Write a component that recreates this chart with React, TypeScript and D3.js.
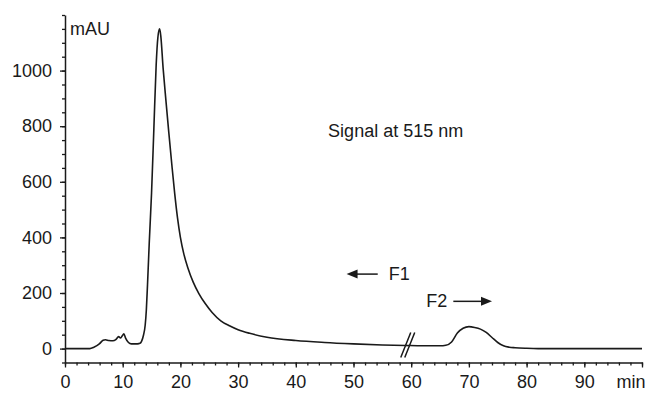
import React, { useEffect, useRef } from 'react';
import * as d3 from 'd3';

// retention time (min) and absorbance (mAU)
const timeMin = [
  0, 4.3, 5, 6, 6.6, 7, 7.6, 8.3, 8.8, 9.3, 9.6, 9.9, 10.2, 10.5, 11, 11.5, 12.3, 12.8,
  13.0, 13.3, 13.6, 13.9, 14.1, 14.3, 14.6, 15.0, 15.4, 15.8, 16.1, 16.4, 16.6, 17.0,
  17.5, 18.0, 18.5, 19.0, 19.5, 20.0, 20.6, 21.3, 22.2, 23.2, 24.3, 25.5, 27, 28.5, 30, 32, 35,
  40, 45, 50, 55, 59,
];
const signal = [
  0, 0, 5, 18, 30, 32, 29, 28, 32, 43, 38, 45, 53, 38, 22, 17, 17, 18,
  19, 28, 48, 85, 140, 230, 380, 560, 790, 1020, 1120, 1150, 1125, 1010,
  890, 775, 665, 560, 470, 400, 340, 290, 240, 198, 162, 130, 100, 82, 68, 55, 41,
  29, 22, 17, 13, 11,
];
// second fraction, after the break in the time axis
const timeMin2 = [59.8, 62, 65, 66, 67, 68, 69, 70, 71, 72, 73, 74, 75, 76, 77, 78, 80, 82, 100];
const signal2 = [11, 10, 10, 12, 24, 56, 73, 79, 76, 70, 58, 40, 22, 10, 5, 3, 1, 0, 0];

const xTicks = [0, 10, 20, 30, 40, 50, 60, 70, 80, 90, 100];
const xTickLabels = ['0', '10', '20', '30', '40', '50', '60', '70', '80', '90', 'min'];
const yTicks = [0, 200, 400, 600, 800, 1000];

const W = 648;
const H = 393;
const FONT = '"Liberation Sans", Arial, Helvetica, sans-serif';
const FS = '18px';

const App = () => {
  const svgRef = useRef<SVGSVGElement>(null);

  useEffect(() => {
    const svg = d3.select(svgRef.current);
    svg.selectAll('*').remove();

    const x = d3.scaleLinear().domain([0, 100]).range([65, 642]);
    const y = d3.scaleLinear().domain([-50, 1200]).range([362.5, 15]);

    const col = '#1a1a1a';

    // minor ticks
    const xMinor = d3.range(0, 101, 2);
    const yMinor = d3.range(-50, 1201, 50);

    const gx = svg.append('g').attr('transform', `translate(0,${y(-50)})`);
    gx.call(d3.axisBottom(x).tickValues(xMinor).tickSize(3).tickSizeOuter(0).tickFormat(() => ''));
    gx.append('g').call(
      d3.axisBottom(x).tickValues(xTicks).tickSize(5).tickSizeOuter(0).tickPadding(8)
        .tickFormat((d, i) => xTickLabels[i])
    );
    gx.selectAll('.domain').filter((_, i) => i > 0).remove();
    gx.selectAll('path.domain').attr('stroke', col).attr('stroke-width', 1.5);
    gx.selectAll('line').attr('stroke', col).attr('stroke-width', 1.3);
    gx.selectAll('text')
      .attr('fill', col)
      .style('font-size', FS)
      .style('font-family', FONT);
    gx.selectAll('text').filter((d) => d === 100).attr('text-anchor', 'end').attr('x', 3);

    const gy = svg.append('g').attr('transform', `translate(${x(0)},0)`);
    gy.call(d3.axisLeft(y).tickValues(yMinor).tickSize(3).tickSizeOuter(0).tickFormat(() => ''));
    gy.append('g').call(
      d3.axisLeft(y).tickValues(yTicks).tickSize(5).tickSizeOuter(0).tickPadding(8)
        .tickFormat(d3.format('d'))
    );
    gy.selectAll('.domain').filter((_, i) => i > 0).remove();
    gy.selectAll('path.domain').attr('stroke', col).attr('stroke-width', 1.5);
    gy.selectAll('line').attr('stroke', col).attr('stroke-width', 1.3);
    gy.selectAll('text')
      .attr('fill', col)
      .style('font-size', FS)
      .style('font-family', FONT);

    // trace
    const line = d3.line<[number, number]>()
      .x((d) => x(d[0]))
      .y((d) => y(d[1]))
      .curve(d3.curveMonotoneX);

    const part1 = timeMin.map((t, i) => [t, signal[i]] as [number, number]);
    const part2 = timeMin2.map((t, i) => [t, signal2[i]] as [number, number]);
    [part1, part2].forEach((pts) => {
      svg.append('path')
        .attr('d', line(pts))
        .attr('fill', 'none')
        .attr('stroke', col)
        .attr('stroke-width', 1.6)
        .attr('stroke-linejoin', 'round');
    });
    // join across the break
    svg.append('line')
      .attr('x1', x(59)).attr('y1', y(11))
      .attr('x2', x(59.8)).attr('y2', y(11))
      .attr('stroke', col).attr('stroke-width', 1.6);

    // axis break mark
    const bx = x(59.4);
    const by = y(11);
    [-2, 2].forEach((off) => {
      svg.append('line')
        .attr('x1', bx + off - 5).attr('y1', by + 12)
        .attr('x2', bx + off + 5).attr('y2', by - 13)
        .attr('stroke', col).attr('stroke-width', 1.5);
    });

    const txt = (s: string, tx: number, ty: number, anchor = 'start') =>
      svg.append('text')
        .attr('x', tx).attr('y', ty)
        .attr('text-anchor', anchor)
        .attr('fill', col)
        .style('font-size', FS)
        .style('font-family', FONT)
        .text(s);

    txt('mAU', x(0) + 5, 35);
    txt('Signal at 515 nm', x(45.6), y(760));
    txt('F1', x(56.1), y(245));
    txt('F2', x(62.6), y(150));

    // arrows
    const arrow = (x1: number, x2: number, yy: number) => {
      const dir = Math.sign(x2 - x1);
      svg.append('line')
        .attr('x1', x1).attr('y1', yy)
        .attr('x2', x2 - dir * 9).attr('y2', yy)
        .attr('stroke', col).attr('stroke-width', 1.5);
      svg.append('path')
        .attr('d', `M${x2},${yy} L${x2 - dir * 11},${yy - 4.5} L${x2 - dir * 11},${yy + 4.5} Z`)
        .attr('fill', col);
    };
    arrow(x(54.2), x(48.8), y(268));
    arrow(x(67.3), x(74.0), y(170));
  }, []);

  return (
    <svg
      ref={svgRef}
      width={W}
      height={H}
      style={{ position: 'absolute', left: 0, top: 0, background: '#fff' }}
    />
  );
};

export default App;
